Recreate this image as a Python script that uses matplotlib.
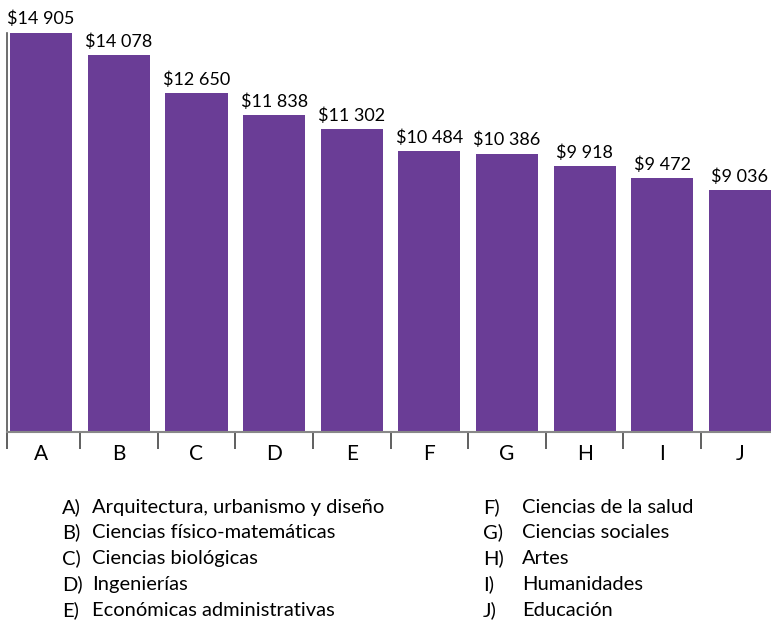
import matplotlib.pyplot as plt

plt.rcParams['font.family'] = ['Lato', 'DejaVu Sans']

letters = ['A', 'B', 'C', 'D', 'E', 'F', 'G', 'H', 'I', 'J']
salaries = [14905, 14078, 12650, 11838, 11302, 10484, 10386, 9918, 9472, 9036]
areas = ['Arquitectura, urbanismo y diseño', 'Ciencias físico-matemáticas',
         'Ciencias biológicas', 'Ingenierías', 'Económicas administrativas',
         'Ciencias de la salud', 'Ciencias sociales', 'Artes',
         'Humanidades', 'Educación']

purple = '#6a3d96'

fig = plt.figure(figsize=(7.71, 6.24), dpi=100)
ax = fig.add_axes([7 / 771, 192 / 624, 764 / 771, 399 / 624])

x = list(range(len(letters)))
bars = ax.bar(x, salaries, width=0.8, color=purple)

for b, v in zip(bars, salaries):
    label = '$' + format(v, ',').replace(',', ' ')
    ax.annotate(label, (b.get_x() + b.get_width() / 2, v),
                xytext=(0, 4), textcoords='offset points',
                ha='center', va='bottom', fontsize=13, color='black',
                annotation_clip=False)

ax.set_xlim(-0.44, 9.4)
ax.set_ylim(0, 14905)

# category labels without marks, boundary ticks between bars
ax.set_xticks(x)
ax.set_xticklabels(letters, fontsize=15)
ax.tick_params(axis='x', which='major', length=0, pad=9)
ax.set_xticks([-0.44] + [i + 0.5 for i in range(9)], minor=True)
ax.tick_params(axis='x', which='minor', length=12, width=1.2, color='#444444')
ax.set_yticks([])

for side in ['top', 'right']:
    ax.spines[side].set_visible(False)
ax.spines['left'].set_color('#555555')
ax.spines['left'].set_linewidth(1.2)
ax.spines['bottom'].set_color('#888888')
ax.spines['bottom'].set_linewidth(1.5)

# key to the letters, two columns (pixel baselines)
rows_y = [513, 538, 564, 590, 616]
for i, name in enumerate(areas):
    col = i // 5
    y = 1 - rows_y[i % 5] / 624
    lx, tx = (62, 92) if col == 0 else (483, 522)
    fig.text(lx / 771, y, letters[i] + ')', fontsize=14.5, va='baseline', ha='left')
    fig.text(tx / 771, y, name, fontsize=14.5, va='baseline', ha='left')

fig.savefig('out.png', dpi=100)
